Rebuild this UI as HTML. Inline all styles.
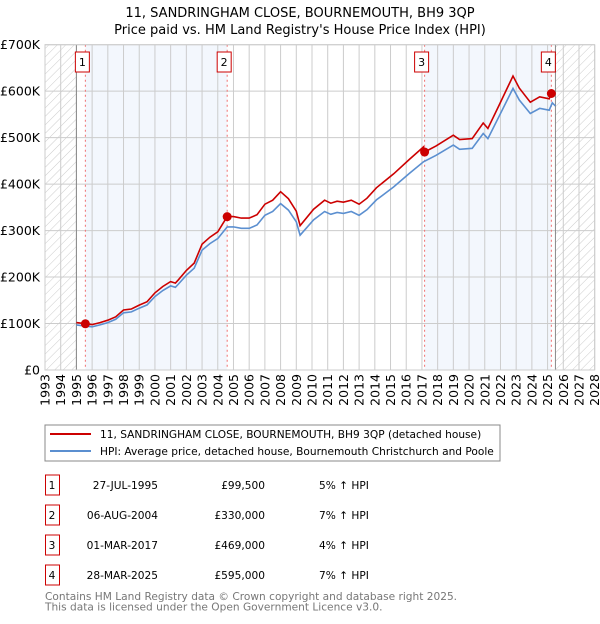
<!DOCTYPE html>
<html><head><meta charset="utf-8"><style>
body{margin:0;background:#fff;font-family:"DejaVu Sans","Liberation Sans",sans-serif;}
</style></head><body>
<svg id="chart" width="600" height="620" xmlns="http://www.w3.org/2000/svg" style="font-family:'DejaVu Sans','Liberation Sans',sans-serif">
<defs>
<pattern id="hatch" width="6" height="6" patternUnits="userSpaceOnUse" patternTransform="rotate(45)">
<line x1="0" y1="0" x2="0" y2="6" stroke="#ccc" stroke-width="1"/>
</pattern>
</defs>
<text x="300" y="17" text-anchor="middle" font-size="13">11, SANDRINGHAM CLOSE, BOURNEMOUTH, BH9 3QP</text>
<text x="300" y="34" text-anchor="middle" font-size="13">Price paid vs. HM Land Registry's House Price Index (HPI)</text>
<g id="plot"></g>
<rect x="45" y="425" width="455" height="36" fill="#fff" stroke="#888"/>
<line x1="50" y1="434" x2="91" y2="434" stroke="#cc0000" stroke-width="2"/>
<text x="100" y="438" font-size="10.6">11, SANDRINGHAM CLOSE, BOURNEMOUTH, BH9 3QP (detached house)</text>
<line x1="50" y1="451" x2="91" y2="451" stroke="#5b8fd0" stroke-width="2"/>
<text x="100" y="455" font-size="10.6">HPI: Average price, detached house, Bournemouth Christchurch and Poole</text>
<g id="table"></g>
<text x="45" y="600" font-size="10.6" fill="#777">Contains HM Land Registry data © Crown copyright and database right 2025.</text>
<text x="45" y="610.5" font-size="10.6" fill="#777">This data is licensed under the Open Government Licence v3.0.</text>
</svg>
<script>
const hpiYears=[1995.0,1995.5,1996,1996.5,1997,1997.5,1998,1998.5,1999,1999.5,2000,2000.5,2001,2001.3,2001.5,2002,2002.5,2003,2003.5,2004,2004.6,2005,2005.5,2006,2006.5,2007,2007.5,2008,2008.5,2009,2009.24,2010.1,2010.8,2011.2,2011.6,2012,2012.5,2013,2013.5,2014.1,2015.2,2016.2,2017.1,2017.9,2019,2019.4,2020.2,2020.9,2021.2,2021.9,2022.8,2023.2,2023.9,2024.5,2025.1,2025.3,2025.5];
const hpiValues=[97,95,93,97,102,109,123,125,133,140,158,171,181,178,185,204,219,258,272,283,308,308,305,305,312,333,341,358,344,319,290,323,341,335,339,337,341,333,345,366,394,423,448,462,484,475,477,509,498,545,606,581,552,563,559,575,568];
const saleYears=[1995.57,2004.6,2017.17,2025.24];
const salePrices=[99.5,330,469,595];
const saleLabels=["1","2","3","4"];
const saleDates=["27-JUL-1995","06-AUG-2004","01-MAR-2017","28-MAR-2025"];
const salePriceText=["£99,500","£330,000","£469,000","£595,000"];
const saleHpiText=["5% ↑ HPI","7% ↑ HPI","4% ↑ HPI","7% ↑ HPI"];
const yTicks=[0,100,200,300,400,500,600,700];
const yTickLabels=["£0","£100K","£200K","£300K","£400K","£500K","£600K","£700K"];
const xStart=1993,xEnd=2028;

const NS="http://www.w3.org/2000/svg";
const L=45,R=594.7,T=44.7,B=370;
const xs=y=>L+(y-xStart)/(xEnd-xStart)*(R-L);
const ys=v=>B-v/700*(B-T);
function mk(tag,attrs,parent){const e=document.createElementNS(NS,tag);for(const k in attrs)e.setAttribute(k,attrs[k]);parent.appendChild(e);return e;}
function hpiAt(t){if(t<=hpiYears[0])return hpiValues[0];for(let i=1;i<hpiYears.length;i++){if(t<=hpiYears[i]){const f=(t-hpiYears[i-1])/(hpiYears[i]-hpiYears[i-1]);return hpiValues[i-1]+f*(hpiValues[i]-hpiValues[i-1]);}}return hpiValues[hpiValues.length-1];}
const g=document.getElementById('plot');
const dataEnd=hpiYears[hpiYears.length-1];
let r=mk('rect',{x:L,y:T,width:R-L,height:B-T,fill:'#fff'},g);

for(let i=0;i<saleYears.length;i+=2){
 const e=mk('rect',{x:xs(saleYears[i]),y:T,width:xs(saleYears[i+1])-xs(saleYears[i]),height:B-T,fill:'#eef3fc',opacity:0.7},g);
 
}
r=mk('rect',{x:L,y:T,width:xs(hpiYears[0])-L,height:B-T,fill:'url(#hatch)'},g);

r=mk('rect',{x:xs(dataEnd),y:T,width:R-xs(dataEnd),height:B-T,fill:'url(#hatch)'},g);

for(let yr=xStart;yr<=xEnd;yr++){
 const e=mk('line',{x1:xs(yr),x2:xs(yr),y1:T,y2:B,stroke:'#ccc','stroke-width':1},g);
 
 const t=mk('text',{transform:`translate(${xs(yr)+4.5},${B+4}) rotate(-90)`,'text-anchor':'end','font-size':12.5},g);
 t.textContent=yr;
 
}
yTicks.forEach((v,i)=>{
 const e=mk('line',{x1:L,x2:R,y1:ys(v),y2:ys(v),stroke:'#ccc','stroke-width':1},g);
 
 const t=mk('text',{x:40,y:ys(v)+4.5,'text-anchor':'end','font-size':12.5},g);
 t.textContent=yTickLabels[i];
 
});
[hpiYears[0],dataEnd].forEach(yv=>{
 const e=mk('line',{x1:xs(yv),x2:xs(yv),y1:T,y2:B,stroke:'#888','stroke-width':1},g);
 
});
saleYears.forEach((sy,i)=>{
 const e=mk('line',{x1:xs(sy),x2:xs(sy),y1:T,y2:B,stroke:'#f07070','stroke-width':1,'stroke-dasharray':'2,3'},g);
 
});
let d='';hpiYears.forEach((yv,i)=>{d+=(i?'L':'M')+xs(yv).toFixed(1)+','+ys(hpiValues[i]).toFixed(1);});
let p=mk('path',{d:d,fill:'none',stroke:'#5b8fd0','stroke-width':1.6},g);

const pts=[];
const times=[...hpiYears,...saleYears].sort((a,b)=>a-b);
times.forEach(t=>{
 let k=0;for(let i=0;i<saleYears.length;i++)if(t>=saleYears[i])k=i;
 pts.push([t,salePrices[k]*hpiAt(t)/hpiAt(saleYears[k])]);
});
d='';pts.forEach((q,i)=>{d+=(i?'L':'M')+xs(q[0]).toFixed(1)+','+ys(q[1]).toFixed(1);});
p=mk('path',{d:d,fill:'none',stroke:'#cc0000','stroke-width':1.6},g);

saleYears.forEach((sy,i)=>{
 const c=mk('circle',{cx:xs(sy),cy:ys(salePrices[i]),r:4.5,fill:'#cc0000'},g);
 
 const b=mk('rect',{x:xs(sy)-10,y:52,width:14,height:20,fill:'#fff',stroke:'#cc0000','stroke-width':1},g);
 
 const t=mk('text',{x:xs(sy)-3,y:66,'text-anchor':'middle','font-size':11},g);
 t.textContent=saleLabels[i];
 
});
r=mk('rect',{x:L,y:T,width:R-L,height:B-T,fill:'none',stroke:'#ccc'},g);

const tb=document.getElementById('table');
saleYears.forEach((sy,i)=>{
 const y0=475+i*30;
 const b=mk('rect',{x:45.5,y:y0,width:14,height:20,fill:'#fff',stroke:'#cc0000'},tb);
 
 const cells=[[52,'middle',saleLabels[i]],[158,'end',saleDates[i]],[265,'end',salePriceText[i]],[319,'start',saleHpiText[i]]];
 cells.forEach(c=>{
  const t=mk('text',{x:c[0],y:y0+14,'text-anchor':c[1],'font-size':10.6},tb);
  t.textContent=c[2];
  
 });
});
</script>
</body></html>
